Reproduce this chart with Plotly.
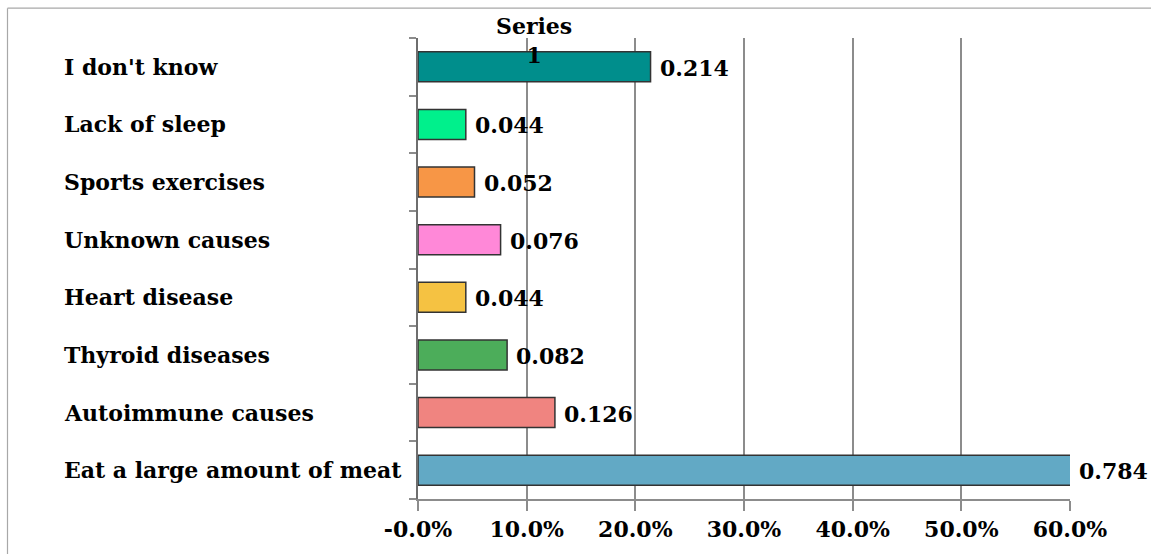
import plotly.graph_objects as go

# Data (top-to-bottom order as shown in the chart)
categories = [
    "I don't know",
    "Lack of sleep",
    "Sports exercises",
    "Unknown causes",
    "Heart disease",
    "Thyroid diseases",
    "Autoimmune causes",
    "Eat a large amount of meat",
]
values = [0.214, 0.044, 0.052, 0.076, 0.044, 0.082, 0.126, 0.784]
value_labels = ["0.214", "0.044", "0.052", "0.076", "0.044", "0.082", "0.126", "0.784"]
colors = ["#008E8C", "#00F08C", "#F79646", "#FF88D8", "#F5C242",
          "#4CAD5A", "#F08480", "#62A9C5"]
series_name = "Series<br>1"
tick_vals = [0.0, 0.1, 0.2, 0.3, 0.4, 0.5, 0.6]
tick_text = ["-0.0%", "10.0%", "20.0%", "30.0%", "40.0%", "50.0%", "60.0%"]

FONT = "DejaVu Serif"
FS = 22
X_MAX = 0.6

W, H = 1151, 554
ML, MR, MT, MB = 418, 81, 38, 52
PW = W - ML - MR
PH = H - MT - MB


def px_to_paper_x(px):
    return (px - ML) / PW


def px_to_paper_y(py):
    return (H - MB - py) / PH


fig = go.Figure()
fig.add_trace(go.Bar(
    y=categories,
    x=values,
    orientation="h",
    width=0.52,
    marker=dict(color=colors, line=dict(color="#333333", width=1.5)),
    showlegend=False,
    hoverinfo="x+y",
))

bold_font = dict(family=FONT, size=FS, color="#000000", weight="bold")

annotations = []
# category labels, left aligned
for c in categories:
    annotations.append(dict(
        x=px_to_paper_x(62), xref="paper", y=c, yref="y",
        text=c, showarrow=False,
        xanchor="left", yanchor="middle",
        font=bold_font,
    ))
# value labels
for c, v, t in zip(categories, values, value_labels):
    annotations.append(dict(
        x=min(v, X_MAX), xref="x", y=c, yref="y",
        text=t, showarrow=False,
        xanchor="left", yanchor="middle", xshift=7, yshift=-1,
        font=bold_font,
    ))
# series name label over the first bar
annotations.append(dict(
    x=values[0] / 2, xref="x", y=categories[0], yref="y",
    text=series_name, showarrow=False,
    xanchor="center", yanchor="middle", yshift=26,
    font=bold_font,
))

fig.update_layout(
    width=W, height=H,
    margin=dict(l=ML, r=MR, t=MT, b=MB),
    paper_bgcolor="white",
    plot_bgcolor="white",
    annotations=annotations,
    shapes=[
        dict(type="line", xref="paper", yref="paper",
             x0=px_to_paper_x(7.5), x1=px_to_paper_x(W + 5),
             y0=px_to_paper_y(8), y1=px_to_paper_y(8),
             line=dict(color="#A8A8A8", width=1.2)),
        dict(type="line", xref="paper", yref="paper",
             x0=px_to_paper_x(7.5), x1=px_to_paper_x(7.5),
             y0=px_to_paper_y(H + 5), y1=px_to_paper_y(8),
             line=dict(color="#A8A8A8", width=1.2)),
    ],
)

fig.update_xaxes(
    range=[0, X_MAX],
    tickvals=tick_vals,
    ticktext=tick_text,
    tickfont=bold_font,
    showgrid=True, gridcolor="#8C8C8C", gridwidth=2,
    showline=True, linecolor="#8C8C8C", linewidth=2,
    ticks="outside", ticklen=10, tickcolor="#8C8C8C", tickwidth=2,
    zeroline=False,
    fixedrange=True,
)
fig.update_yaxes(
    categoryorder="array",
    categoryarray=list(reversed(categories)),
    range=[-0.5, len(categories) - 0.5],
    showticklabels=False,
    tickson="boundaries",
    ticks="outside", ticklen=7, tickcolor="#8C8C8C", tickwidth=2,
    showline=True, linecolor="#6E6E6E", linewidth=2,
    showgrid=False,
    zeroline=False,
    fixedrange=True,
)

fig.write_html("out.html")
